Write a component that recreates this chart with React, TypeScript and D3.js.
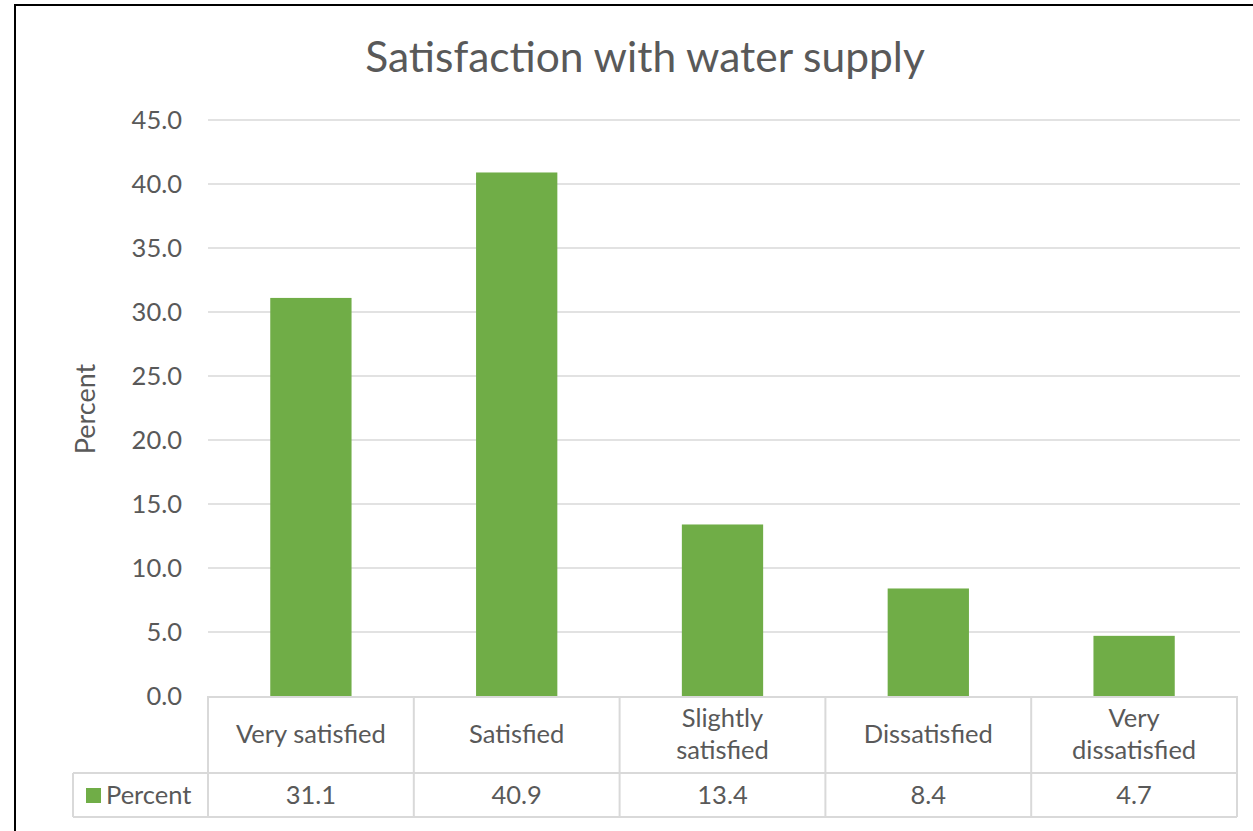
import React from "react";
import * as d3 from "d3";

const categories: string[][] = [
  ["Very satisfied"],
  ["Satisfied"],
  ["Slightly", "satisfied"],
  ["Dissatisfied"],
  ["Very", "dissatisfied"],
];
const values: number[] = [31.1, 40.9, 13.4, 8.4, 4.7];
const yTicks: number[] = [0, 5, 10, 15, 20, 25, 30, 35, 40, 45];
const seriesName = "Percent";
const title = "Satisfaction with water supply";
const yTitle = "Percent";

const W = 1253;
const H = 831;
const FONT = "Lato, 'Liberation Sans', sans-serif";
const TXT = "#595959";
const GRID = "#d9d9d9";
const GREEN = "#70AD47";
const FS = 25.5;

export default function App() {
  const x0 = 208, x1 = 1237;
  const yBase = 696, yTop = 120;
  const x = d3.scaleBand<number>().domain(d3.range(values.length)).range([x0, x1]).padding(0);
  const y = d3.scaleLinear().domain([0, 45]).range([yBase, yTop]);
  const bw = x.bandwidth() * 0.395;
  const headerBottom = 773;
  const rowBottom = 817;
  const legendLeft = 73;

  return (
    <svg width={W} height={H} style={{ position: "absolute", left: 0, top: 0, background: "#fff" }}>
      <rect x={0} y={0} width={W} height={H} fill="#fff" />
      <rect x={15} y={5} width={W + 10} height={H + 10} fill="none" stroke="#000" strokeWidth={2} />
      <text x={645} y={72} textAnchor="middle" fontFamily={FONT} fontSize={42.5} fill={TXT}>{title}</text>
      {yTicks.map((t) => (
        <g key={t}>
          {t > 0 && <line x1={x0} x2={1240} y1={y(t)} y2={y(t)} stroke={GRID} strokeWidth={1.5} />}
          <text x={182} y={y(t)} dy="0.35em" textAnchor="end" fontFamily={FONT} fontSize={FS} fill={TXT}>{t.toFixed(1)}</text>
        </g>
      ))}
      <text transform={`translate(95,${409}) rotate(-90)`} textAnchor="middle" fontFamily={FONT} fontSize={27} fill={TXT}>{yTitle}</text>
      {values.map((v, i) => (
        <rect key={i} x={(x(i) as number) + (x.bandwidth() - bw) / 2} y={y(v)} width={bw} height={yBase - y(v)} fill={GREEN} />
      ))}
      {/* table */}
      <g stroke={GRID} strokeWidth={2} fill="none">
        <line x1={x0} x2={x1} y1={yBase + 1} y2={yBase + 1} />
        <line x1={legendLeft} x2={x1} y1={headerBottom} y2={headerBottom} />
        <line x1={legendLeft} x2={x1} y1={rowBottom} y2={rowBottom} />
        <line x1={legendLeft} x2={legendLeft} y1={headerBottom} y2={rowBottom} />
        {d3.range(values.length + 1).map((i) => {
          const xx = i < values.length ? (x(i) as number) : x1;
          return <line key={i} x1={xx} x2={xx} y1={yBase} y2={rowBottom} />;
        })}
      </g>
      {categories.map((lines, i) => {
        const cx = (x(i) as number) + x.bandwidth() / 2;
        const mid = (yBase + headerBottom) / 2;
        const lh = 32;
        return (
          <text key={i} textAnchor="middle" fontFamily={FONT} fontSize={FS} fill={TXT}>
            {lines.map((l, j) => (
              <tspan key={j} x={cx} y={mid + (j - (lines.length - 1) / 2) * lh} dy="0.35em">{l}</tspan>
            ))}
          </text>
        );
      })}
      {values.map((v, i) => (
        <text key={i} x={(x(i) as number) + x.bandwidth() / 2} y={(headerBottom + rowBottom) / 2} dy="0.35em" textAnchor="middle" fontFamily={FONT} fontSize={FS} fill={TXT}>{v.toFixed(1)}</text>
      ))}
      <rect x={86} y={788} width={15} height={15} fill={GREEN} />
      <text x={106} y={(headerBottom + rowBottom) / 2} dy="0.35em" fontFamily={FONT} fontSize={FS} fill={TXT}>{seriesName}</text>
    </svg>
  );
}
